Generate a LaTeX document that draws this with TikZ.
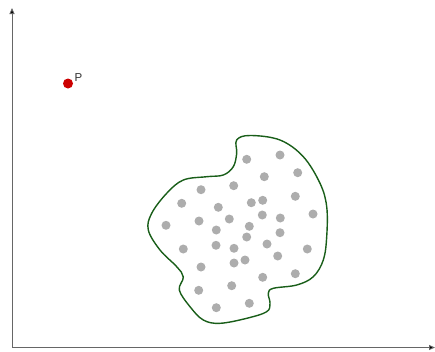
\documentclass[tikz,border=0pt]{standalone}
\usepackage{fontspec}
\setmainfont{Liberation Sans}
\usetikzlibrary{arrows.meta}
\begin{document}
\begin{tikzpicture}[x=1pt,y=-1pt,
  axis/.style={draw=black!60,line width=0.9pt,-{Triangle[length=6pt,width=5pt,fill=black]}},
  pt/.style={circle,fill=black!32,inner sep=0pt,minimum size=9pt},
  blob/.style={draw=green!30!black!90,line width=1.4pt},
  ptred/.style={circle,fill=red!80!black,inner sep=0pt,minimum size=10pt}]
\useasboundingbox (0,0) rectangle (435,351);
\coordinate (O) at (12,347.5);
\coordinate (Y) at (12,8);
\coordinate (X) at (435,347.5);
\draw[axis] (O) -- (Y);
\draw[axis] (O) -- (X);
\node[ptred] (p) at (68,83.5) {};
\node[anchor=south west,inner sep=0pt,text=black!80,font=\fontsize{11.5}{13}\selectfont] (plabel) at (74.5,81.5) {P};
\draw[blob] plot[smooth cycle,tension=0.6] coordinates {
(236.7,140) (250,135.5) (280,140) (303.3,156.7) (320,183.3) (326.7,206.7)
(326.7,236.7) (323.3,260) (313.3,276.7) (296.7,285) (273.3,288.3) (268.3,293.3)
(270,303.3) (266.7,311.7) (246.7,318.3) (220,323.3) (203.3,320) (190,306.7)
(179.3,290) (183.3,277) (176.7,266.7) (160,250) (148.3,230) (151.7,213.3)
(166.7,193.3) (183.3,180) (206.7,176.7) (223.3,175) (233.3,166.7) (236.7,153.3)};
\foreach \x/\y [count=\i] in {246.7/159.3,280/155,264.3/176.7,297.7/172.7,201/189.7,233.7/185.7,
181.7/203.3,218.3/207.3,251.3/202.7,262.7/200.3,295.3/196.3,166/225.3,199/221,229.3/219,
262.3/215,280.3/218,313/214,216.3/230,249.3/226.3,246.7/237,280/232.7,183.3/249,216/245.3,
234/248.3,267/244,307.3/249,234/263,245/260,277.7/256,201/267,295.3/273.7,262.7/277.3,
198.7/290.3,231.7/285.7,216.3/307.7,249.3/303.3}
  \node[pt] (d\i) at (\x,\y) {};
\end{tikzpicture}
\end{document}
